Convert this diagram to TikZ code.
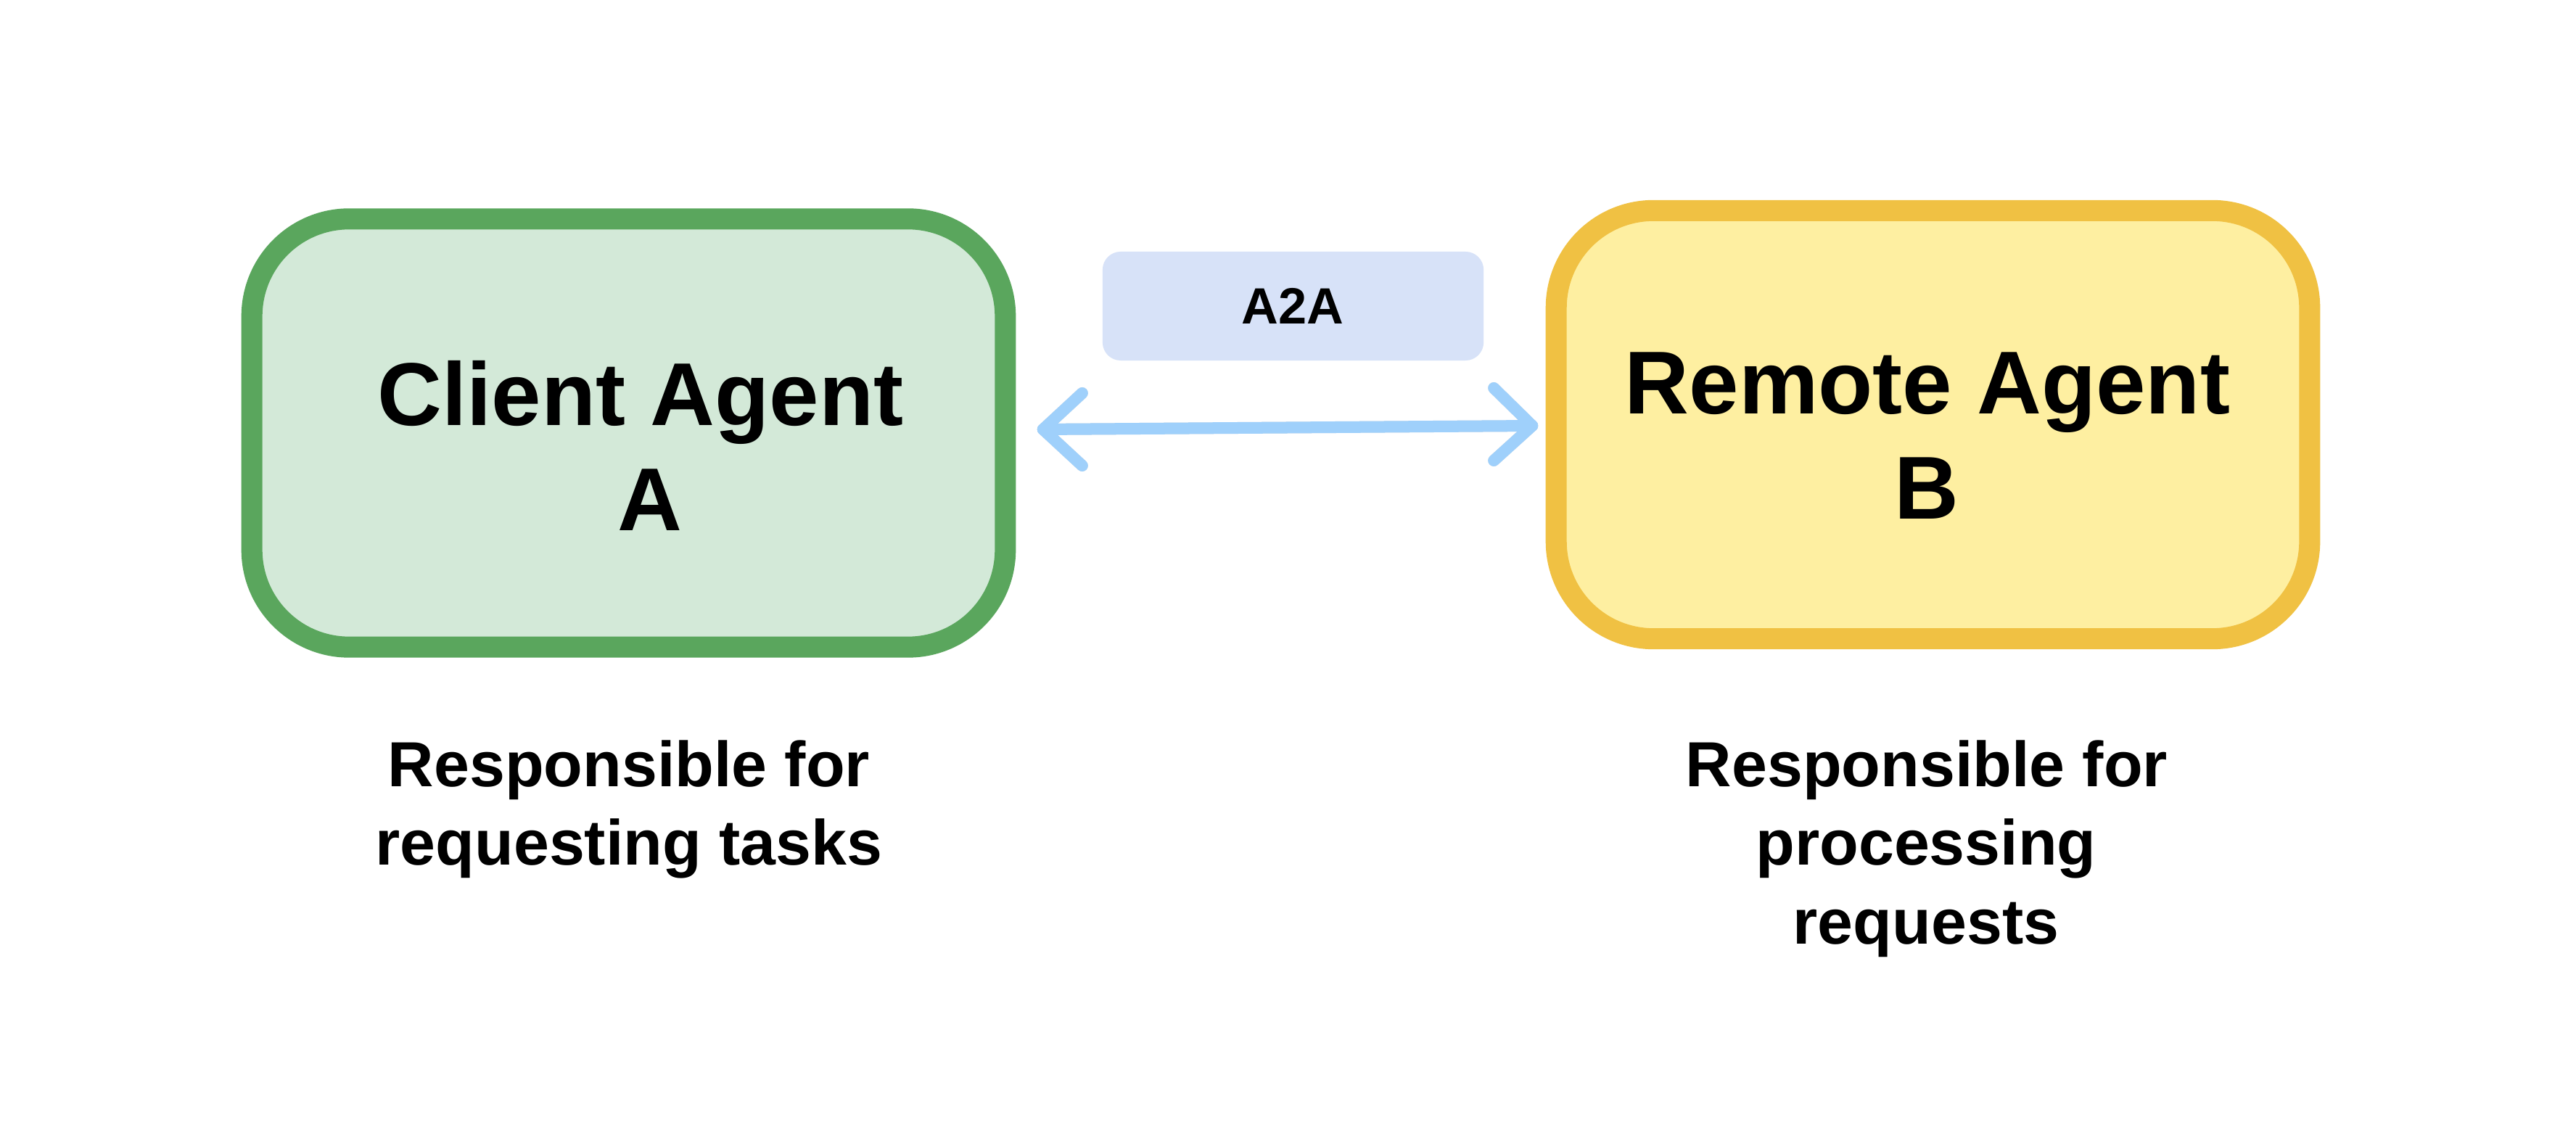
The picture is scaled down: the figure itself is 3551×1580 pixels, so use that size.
\documentclass[tikz,border=0pt]{standalone}
\usepackage{fontspec}
\setmainfont{Liberation Sans}
\usetikzlibrary{calc}
\definecolor{greenline}{HTML}{5AA65D}
\definecolor{greenfill}{HTML}{D3E9D8}
\definecolor{yellowline}{HTML}{F0C143}
\definecolor{yellowfill}{HTML}{FEEFA1}
\definecolor{tagfill}{HTML}{D7E2F8}
\definecolor{arrowblue}{HTML}{9FD0FB}
\begin{document}
\begin{tikzpicture}[x=0.01cm,y=-0.01cm,
  agentbox/.style={draw, line width=0.29cm, rounded corners=1.34cm,
    minimum width=10.38cm, minimum height=5.9cm, inner sep=0pt},
  bigtext/.style={font=\fontsize{35}{42}\selectfont\bfseries, inner sep=0pt, anchor=base},
  smalltext/.style={font=\fontsize{25}{30}\selectfont\bfseries, inner sep=0pt, anchor=base},
  tagtext/.style={font=\fontsize{20}{24}\selectfont\bfseries, inner sep=0pt, anchor=base},
  tagbox/.style={fill=tagfill, rounded corners=0.25cm, minimum width=5.25cm,
    minimum height=1.5cm, inner sep=0pt},
  linkline/.style={draw=arrowblue, line width=0.16cm, line cap=round, line join=round},
  linkshadow/.style={draw=black!30, opacity=0.4, line width=0.16cm, line cap=round, line join=round}
]
\fill[white] (0,0) rectangle (3551,1580);
\useasboundingbox (0,0) rectangle (3551,1580);

% agent boxes
\node[agentbox, draw=greenline, fill=greenfill] (client) at (866.5,597) {};
\node[agentbox, draw=yellowline, fill=yellowfill] (remote) at (2664.5,585.5) {};

\node[bigtext] (clientl1) at (883,587) {Client Agent};
\node[bigtext] (clientl2) at (896,732) {A};
\node[bigtext] (remotel1) at (2657,571) {Remote Agent};
\node[bigtext] (remotel2) at (2656,716) {B};

% A2A label
\node[tagbox] (tag) at (1782.5,422) {};
\node[tagtext] (tagl) at (1782,447) {A2A};

% connector
\coordinate (la) at ($(client.east)+(37.5,-5)$);
\coordinate (rb) at ($(remote.west)+(-18.5,1.5)$);
\begin{scope}[shift={(3,4)}]
\draw[linkshadow] (la) -- (rb);
\draw[linkshadow] ($(la)+(54,-50)$) -- (la) -- ($(la)+(54,50)$);
\draw[linkshadow] ($(rb)+(-53,-52)$) -- (rb) -- ($(rb)+(-53,48)$);
\end{scope}
\draw[linkline] (la) -- (rb);
\draw[linkline] ($(la)+(54,-50)$) -- (la) -- ($(la)+(54,50)$);
\draw[linkline] ($(rb)+(-53,-52)$) -- (rb) -- ($(rb)+(-53,48)$);

% descriptions
\node[smalltext] (cd1) at (867,1085) {Responsible for};
\node[smalltext] (cd2) at (867,1193) {requesting tasks};
\node[smalltext] (rd1) at (2656,1085) {Responsible for};
\node[smalltext] (rd2) at (2655,1193) {processing};
\node[smalltext] (rd3) at (2655,1302) {requests};
\end{tikzpicture}
\end{document}
